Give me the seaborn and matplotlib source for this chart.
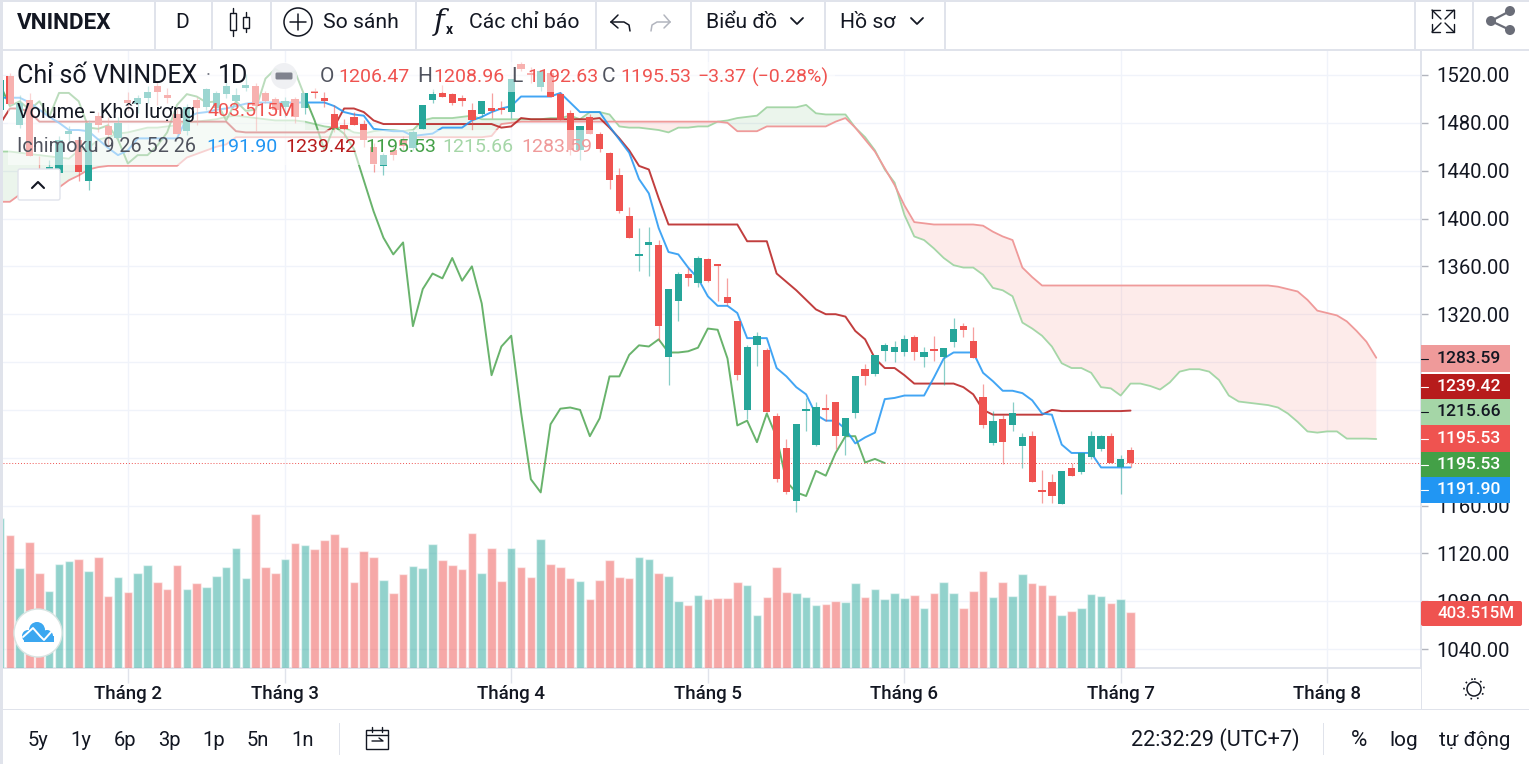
#!/usr/bin/env python3
"""VNINDEX daily candles with volume and Ichimoku, redrawn from a broker chart screenshot."""

import matplotlib
import matplotlib.pyplot as plt
import numpy as np
import pandas as pd
import seaborn as sns
from matplotlib.patches import Circle, FancyBboxPatch, Rectangle

matplotlib.use("Agg")

# ─── Data ───────────────────────────────────────────────────────────────────
OPENS = [
    1491, 1519, 1478, 1499, 1440, 1439, 1438, 1471, 1466, 1431,
    1486, 1477, 1467, 1499, 1496, 1501, 1511, 1503, 1487, 1473,
    1499, 1493, 1492, 1504, 1498, 1509, 1511, 1505, 1500, 1493,
    1500, 1492, 1506, 1501, 1487, 1478, 1485, 1479, 1460, 1444,
    1457, 1466, 1459, 1475, 1499, 1505, 1504, 1501, 1491, 1487,
    1492, 1492, 1489, 1529, 1522, 1510, 1522, 1504, 1488, 1457,
    1485, 1471, 1455, 1436, 1402, 1369, 1378, 1378, 1284, 1331,
    1354, 1346, 1366, 1362, 1334, 1314, 1240, 1294, 1290, 1235,
    1208, 1164, 1239, 1211, 1241, 1247, 1218, 1237, 1274, 1270,
    1289, 1288, 1288, 1301, 1284, 1290, 1284, 1297, 1310, 1298,
    1251, 1212, 1232, 1227, 1210, 1218, 1173, 1180, 1161, 1191,
    1188, 1201, 1207, 1218, 1192, 1206.47,
]
HIGHS = [
    1518, 1522, 1503, 1505, 1452, 1449, 1469, 1477, 1469, 1482,
    1489, 1485, 1485, 1506, 1503, 1511, 1514, 1509, 1492, 1496,
    1502, 1509, 1507, 1516, 1509, 1521, 1513, 1507, 1502, 1502,
    1502, 1505, 1509, 1506, 1495, 1483, 1489, 1482, 1463, 1455,
    1460, 1469, 1474, 1495, 1508, 1512, 1505, 1503, 1497, 1498,
    1505, 1498, 1517, 1531, 1527, 1523, 1522, 1506, 1491, 1477,
    1487, 1472, 1456, 1442, 1410, 1392, 1393, 1382, 1341, 1355,
    1359, 1369, 1367, 1362, 1350, 1314, 1294, 1305, 1292, 1237,
    1216, 1228, 1250, 1247, 1253, 1247, 1233, 1268, 1278, 1286,
    1296, 1298, 1303, 1303, 1293, 1302, 1292, 1317, 1313, 1309,
    1262, 1239, 1236, 1247, 1221, 1222, 1190, 1186, 1189, 1196,
    1204, 1222, 1219, 1221, 1202, 1208.96,
]
LOWS = [
    1488, 1495, 1476, 1452, 1424, 1434, 1436, 1463, 1431, 1424,
    1472, 1461, 1466, 1491, 1488, 1497, 1495, 1497, 1471, 1470,
    1478, 1491, 1489, 1501, 1493, 1507, 1473, 1497, 1487, 1485,
    1480, 1487, 1501, 1493, 1472, 1468, 1478, 1460, 1439, 1436,
    1449, 1457, 1457, 1475, 1497, 1502, 1495, 1494, 1474, 1485,
    1484, 1487, 1484, 1523, 1513, 1507, 1502, 1482, 1453, 1449,
    1471, 1456, 1425, 1405, 1384, 1356, 1352, 1298, 1261, 1314,
    1344, 1343, 1347, 1331, 1328, 1265, 1232, 1277, 1238, 1180,
    1170, 1155, 1222, 1210, 1231, 1207, 1202, 1233, 1261, 1268,
    1281, 1280, 1285, 1282, 1276, 1281, 1261, 1293, 1301, 1283,
    1225, 1211, 1195, 1222, 1191, 1180, 1162, 1162, 1161, 1185,
    1186, 1199, 1206, 1196, 1170, 1192.63,
]
CLOSES = [
    1516, 1496, 1497, 1452, 1438, 1443, 1466, 1473, 1439, 1480,
    1478, 1470, 1480, 1497, 1501, 1506, 1506, 1501, 1471, 1493,
    1492, 1508, 1505, 1511, 1503, 1512, 1494, 1498, 1491, 1498,
    1485, 1505, 1505, 1498, 1476, 1475, 1478, 1466, 1446, 1453,
    1453, 1461, 1472, 1495, 1504, 1502, 1497, 1498, 1482, 1498,
    1490, 1491, 1517, 1525, 1520, 1523, 1502, 1482, 1457, 1477,
    1471, 1458, 1432, 1406, 1384, 1370, 1380, 1310, 1341, 1354,
    1350, 1367, 1348, 1360, 1329, 1269, 1293, 1302, 1238, 1182,
    1171, 1228, 1241, 1242, 1240, 1218, 1233, 1268, 1268, 1286,
    1294, 1293, 1299, 1288, 1288, 1289, 1292, 1308, 1307, 1283,
    1227, 1231, 1213, 1237, 1217, 1180, 1171, 1168, 1189, 1185,
    1204, 1218, 1218, 1196, 1199, 1195.53,
]
VOLUMES = [
    1080, 958, 720, 907, 684, 554, 749, 770, 785, 698,
    799, 518, 655, 547, 684, 742, 619, 569, 742, 569,
    612, 583, 662, 727, 864, 648, 1109, 727, 684, 785,
    900, 886, 857, 922, 965, 871, 619, 842, 799, 634,
    540, 677, 734, 720, 893, 778, 742, 713, 972, 684,
    864, 626, 864, 727, 655, 929, 749, 727, 648, 626,
    497, 634, 778, 655, 648, 799, 785, 684, 662, 482,
    454, 526, 497, 504, 504, 619, 598, 382, 511, 727,
    547, 540, 511, 454, 461, 482, 475, 612, 511, 569,
    497, 540, 504, 526, 432, 540, 619, 540, 432, 554,
    698, 511, 619, 518, 677, 612, 598, 526, 382, 410,
    432, 533, 518, 468, 497, 403.515,
]
TENKAN = [
    1501, 1501, 1501, 1497, 1491, 1485, 1480, 1474, 1474, 1473,
    1466, 1459, 1453, 1457, 1467, 1467, 1467, 1467, 1467, 1484,
    1488, 1489, 1491, 1492, 1494, 1496, 1497, 1497, 1497, 1497,
    1497, 1497, 1497, 1497, 1494, 1489, 1487, 1486, 1475, 1474,
    1473, 1473, 1469, 1470, 1471, 1476, 1476, 1476, 1482, 1485,
    1489, 1492, 1494, 1502, 1502, 1502, 1502, 1505, 1497, 1489,
    1489, 1489, 1477, 1466, 1455, 1433, 1421, 1392, 1372, 1370,
    1359, 1350, 1335, 1327, 1327, 1321, 1300, 1300, 1300, 1275,
    1268, 1259, 1253, 1236, 1231, 1231, 1224, 1212, 1217, 1221,
    1249, 1250, 1252, 1252, 1252, 1267, 1283, 1288, 1288, 1288,
    1271, 1264, 1256, 1256, 1254, 1248, 1237, 1236, 1211, 1204,
    1204, 1204, 1191.9, 1191.9, 1191.9, 1191.9,
]
KIJUN = [
    1479, 1492, 1492, 1489, 1481, 1481, 1481, 1481, 1481, 1481,
    1481, 1481, 1481, 1481, 1481, 1481, 1481, 1481, 1481, 1481,
    1481, 1481, 1481, 1481, 1473, 1472, 1472, 1472, 1472, 1472,
    1472, 1472, 1472, 1472, 1477, 1492, 1492, 1489, 1482, 1479,
    1479, 1479, 1479, 1479, 1479, 1479, 1479, 1479, 1479, 1479,
    1479, 1476, 1477, 1484, 1483, 1483, 1483, 1483, 1483, 1483,
    1483, 1484, 1476, 1467, 1457, 1444, 1441, 1417, 1395, 1395,
    1395, 1395, 1395, 1395, 1395, 1395, 1381, 1381, 1381, 1354,
    1347, 1340, 1332, 1324, 1320, 1320, 1318, 1306, 1299, 1283,
    1275, 1275, 1269, 1262, 1262, 1262, 1262, 1262, 1259, 1253,
    1240, 1236, 1236, 1236, 1236, 1236, 1236, 1240, 1239, 1239,
    1239, 1239, 1239, 1239, 1239, 1239.42,
]
CHIKOU = [
    1512, 1494, 1498, 1491, 1498, 1485, 1505, 1505, 1498, 1476,
    1475, 1478, 1466, 1446, 1453, 1453, 1461, 1472, 1495, 1504,
    1502, 1497, 1498, 1482, 1498, 1490, 1491, 1517, 1525, 1520,
    1523, 1502, 1482, 1457, 1477, 1471, 1458, 1432, 1406, 1384,
    1370, 1380, 1310, 1341, 1354, 1350, 1367, 1348, 1360, 1329,
    1269, 1293, 1302, 1238, 1182, 1171, 1228, 1241, 1242, 1240,
    1218, 1233, 1268, 1268, 1286, 1294, 1293, 1299, 1288, 1288,
    1289, 1292, 1308, 1307, 1283, 1227, 1231, 1213, 1237, 1217,
    1180, 1171, 1168, 1189, 1185, 1204, 1218, 1218, 1196, 1199,
    1195.53,
]
SENKOU_A = [
    1456, 1456, 1455, 1454, 1453, 1452, 1451, 1450, 1457, 1459,
    1466, 1468, 1471, 1472, 1474, 1476, 1476, 1477, 1478, 1481,
    1481, 1482, 1483, 1485, 1486, 1485, 1484, 1483, 1482, 1482,
    1482, 1481, 1479, 1477, 1476, 1476, 1472, 1471, 1473, 1474,
    1474, 1473, 1474, 1482, 1484, 1484, 1484, 1485, 1486, 1483,
    1483, 1483, 1483, 1483, 1483, 1483, 1484, 1484, 1486, 1483,
    1489, 1489, 1487, 1477, 1476, 1476, 1475, 1474, 1472, 1476,
    1476, 1477, 1477, 1481, 1482, 1484, 1485, 1486, 1493, 1493,
    1493, 1493, 1495, 1488, 1487, 1487, 1487, 1476, 1468, 1457,
    1441, 1430, 1403, 1385, 1382, 1375, 1367, 1361, 1359, 1359,
    1353, 1342, 1340, 1335, 1313, 1308, 1302, 1293, 1279, 1275,
    1275, 1271, 1259, 1258, 1252, 1262, 1262, 1260, 1257, 1263,
    1272, 1274, 1274, 1272, 1265, 1252, 1247, 1246, 1245, 1244,
    1242, 1237, 1230, 1222, 1221, 1222, 1222, 1216, 1216, 1216,
    1215.66,
]
SENKOU_B = [
    1414, 1414, 1420, 1422, 1424, 1426, 1426, 1432, 1436, 1441,
    1443, 1444, 1444, 1444, 1444, 1444, 1444, 1444, 1444, 1451,
    1454, 1457, 1460, 1462, 1468, 1468, 1468, 1468, 1468, 1468,
    1468, 1468, 1468, 1468, 1468, 1468, 1468, 1468, 1468, 1468,
    1468, 1468, 1468, 1468, 1468, 1468, 1468, 1468, 1468, 1468,
    1469, 1479, 1480, 1481, 1481, 1481, 1481, 1481, 1481, 1481,
    1481, 1481, 1481, 1481, 1481, 1481, 1481, 1481, 1481, 1481,
    1481, 1481, 1481, 1481, 1480, 1473, 1473, 1473, 1477, 1477,
    1477, 1477, 1477, 1477, 1477, 1481, 1484, 1476, 1466, 1456,
    1442, 1428, 1411, 1397, 1396, 1395, 1395, 1395, 1395, 1395,
    1394, 1389, 1385, 1382, 1359, 1351, 1344, 1344, 1344, 1344,
    1344, 1344, 1344, 1344, 1344, 1344, 1344, 1344, 1344, 1344,
    1344, 1344, 1344, 1344, 1344, 1344, 1344, 1344, 1344, 1344,
    1343, 1341, 1339, 1332, 1323, 1321, 1319, 1314, 1306, 1297,
    1283.59,
]
PRICE_TICKS = [1040, 1080, 1120, 1160, 1200, 1240, 1280, 1320, 1360, 1400, 1440, 1480, 1520]
HIDDEN_TICKS = [1200, 1240, 1280]  # covered by the last value tags
MONTH_BARS = [13, 29, 52, 72, 92, 114, 135]
MONTH_LABELS = ["Tháng 2", "Tháng 3", "Tháng 4", "Tháng 5", "Tháng 6", "Tháng 7", "Tháng 8"]
RANGES = ["5y", "1y", "6p", "3p", "1p", "5n", "1n"]

# ─── Styles ─────────────────────────────────────────────────────────────────
UP = "#26A69A"
DOWN = "#EF5350"
C_TENKAN = "#2196F3"
C_KIJUN = "#B71C1C"
C_CHIKOU = "#43A047"
C_SPAN_A = "#A5D6A7"
C_SPAN_B = "#EF9A9A"
GRID = "#F0F3FA"
BORDER = "#E0E3EB"
INK = "#131722"
GREY = "#50535E"
W, H = 1529, 764

sns.set_style("white")
plt.rcParams["font.family"] = ["Roboto", "DejaVu Sans"]


def main():
    n_bars = len(CLOSES)
    bars = pd.DataFrame({"bar": np.arange(n_bars), "open": OPENS, "high": HIGHS,
                         "low": LOWS, "close": CLOSES, "volume": VOLUMES})
    bars["dir"] = np.where(bars["close"] >= bars["open"], "up", "down")
    cloud = pd.DataFrame({"bar": np.arange(len(SENKOU_A)), "a": SENKOU_A, "b": SENKOU_B})

    fig = plt.figure(figsize=(W / 100, H / 100), dpi=100, facecolor="white")
    rect = [3 / W, 1 - 668 / H, 1418 / W, 618 / H]
    ax = fig.add_axes(rect, zorder=1)
    ax_vol = fig.add_axes(rect, zorder=2)
    ax_vol.patch.set_alpha(0)

    # price pane
    ax.fill_between(cloud["bar"], cloud["a"], cloud["b"], where=cloud["a"] >= cloud["b"],
                    interpolate=True, color=C_CHIKOU, alpha=0.1, lw=0, zorder=1)
    ax.fill_between(cloud["bar"], cloud["a"], cloud["b"], where=cloud["a"] < cloud["b"],
                    interpolate=True, color="#F44336", alpha=0.1, lw=0, zorder=1)
    sns.lineplot(data=cloud, x="bar", y="a", ax=ax, color=C_SPAN_A, lw=1.3, estimator=None, zorder=2)
    sns.lineplot(data=cloud, x="bar", y="b", ax=ax, color=C_SPAN_B, lw=1.3, estimator=None, zorder=2)
    sns.lineplot(x=np.arange(len(CHIKOU)), y=CHIKOU, ax=ax, color=C_CHIKOU, lw=1.4, alpha=0.8,
                 estimator=None, zorder=3)
    sns.lineplot(x=bars["bar"], y=KIJUN, ax=ax, color=C_KIJUN, lw=1.4, alpha=0.85, estimator=None, zorder=3)
    sns.lineplot(x=bars["bar"], y=TENKAN, ax=ax, color=C_TENKAN, lw=1.4, alpha=0.85, estimator=None, zorder=3)

    colors = bars["dir"].map({"up": UP, "down": DOWN})
    ax.vlines(bars["bar"], bars["low"], bars["high"], colors=colors, lw=0.9, alpha=0.55, zorder=4)
    bottoms = bars[["open", "close"]].min(axis=1)
    heights = (bars["close"] - bars["open"]).abs().clip(lower=1.6)
    ax.bar(bars["bar"], heights, bottom=bottoms, width=0.74, color=colors, lw=0, zorder=5)
    ax.axhline(CLOSES[-1], color=DOWN, lw=0.7, ls=(0, (1, 2)), zorder=4)

    ax.set_xlim(0.3, 144.55)
    ax.set_ylim(1024.2, 1540.9)
    ax.set_xlabel("")
    ax.set_ylabel("")
    ax.set_xticks(MONTH_BARS)
    ax.set_xticklabels(MONTH_LABELS, fontsize=13.4, color=INK, fontweight="medium")
    ax.set_yticks(PRICE_TICKS)
    ax.set_yticklabels(["" if p in HIDDEN_TICKS else f"{p:.2f}" for p in PRICE_TICKS],
                       fontsize=14.6, color=INK)
    ax.yaxis.tick_right()
    ax.tick_params(axis="y", length=5, width=1, color="#B2B5BE", pad=6, right=True)
    ax.tick_params(axis="x", length=11, width=1, color=BORDER, pad=1, bottom=True)
    ax.grid(True, color=GRID, lw=1)
    ax.set_axisbelow(True)
    for name, spine in ax.spines.items():
        spine.set_visible(name in ("bottom", "right"))
        spine.set_color(BORDER)
        spine.set_linewidth(1.4)

    # volume pane, same x scale
    sns.barplot(data=bars, x="bar", y="volume", hue="dir", native_scale=True, dodge=False,
                width=0.87, palette={"up": UP, "down": DOWN}, saturation=1, alpha=0.5,
                errorbar=None, legend=False, ax=ax_vol)
    ax_vol.set_xlim(0.3, 144.55)
    ax_vol.set_ylim(0, 618 * 403.515 / 56)
    ax_vol.axis("off")

    draw_ui(fig)
    fig.savefig("out.png", dpi=100)
    plt.close(fig)


def draw_ui(fig):
    ui = fig.add_axes([0, 0, 1, 1], zorder=10)
    ui.set_xlim(0, W)
    ui.set_ylim(H, 0)
    ui.axis("off")
    ui.patch.set_alpha(0)

    def txt(x, y, s, color=INK, size=14, ha="left", **kw):
        ui.text(x, y, s, color=color, fontsize=size, ha=ha, va="center", **kw)

    def box(x, y, w, h, fc, **kw):
        ui.add_patch(Rectangle((x, y), w, h, fc=fc, lw=0, **kw))

    def line(xs, ys, color=INK, lw=1.1, **kw):
        ui.plot(xs, ys, color=color, lw=lw, solid_capstyle="round", **kw)

    # faded strip behind the legend rows
    box(8, 62, 827, 30, "white", alpha=0.55)
    box(8, 92, 297, 38, "white", alpha=0.55)
    box(8, 130, 587, 35, "white", alpha=0.55)

    # toolbar
    box(0, 0, W, 2, BORDER)
    box(0, 49, W, 2.4, BORDER)
    box(0, 0, 3, H, BORDER)
    for x in [154, 211, 270, 415, 595, 690, 824, 944, 1414, 1472]:
        box(x, 0, 1.5, 50, BORDER)
    txt(17, 23, "VNINDEX", size=16.2, fontweight="bold")
    txt(182, 23, "D", size=15, ha="center")
    for x, top, bot, t, b in [(233, 13, 30, 8, 36), (246, 17, 28, 12, 32)]:
        ui.add_patch(Rectangle((x - 3, top), 6, bot - top, fc="white", ec=INK, lw=1))
        line([x, x], [t, top], lw=1)
        line([x, x], [bot, b], lw=1)
    ui.add_patch(Circle((298, 22), 14, fc="white", ec=INK, lw=1.1))
    line([298, 298], [14, 30])
    line([290, 306], [22, 22])
    txt(323, 23, "So sánh", size=15.2)
    txt(434, 22, "f", size=21, family="DejaVu Serif", style="italic")
    txt(446, 30, "x", size=10, fontweight="bold")
    txt(469, 23, "Các chỉ báo", size=15.2)
    line([611, 618], [22, 15])
    line([611, 618], [22, 28])
    line([611, 624, 629, 630], [22, 22, 25, 31])
    line([670, 664], [22, 15], color="#B2B5BE")
    line([670, 664], [22, 28], color="#B2B5BE")
    line([670, 657, 652, 651], [22, 22, 25, 31], color="#B2B5BE")
    txt(706, 23, "Biểu đồ", size=15.2)
    line([791, 797, 803], [18, 24, 18], lw=1.3)
    txt(840, 23, "Hồ sơ", size=15.2)
    line([911, 917, 923], [18, 24, 18], lw=1.3)
    for sx, sy in [(1, 1), (-1, 1), (1, -1), (-1, -1)]:
        cx, cy = 1443 + sx * 11, 21 + sy * 11
        line([cx - sx * 8, cx], [cy, cy], lw=1)
        line([cx, cx], [cy - sy * 8, cy], lw=1)
        line([cx, cx - sx * 9], [cy, cy - sy * 9], lw=1)
    share = [(1510, 11), (1491, 21), (1510, 30)]
    line([p[0] for p in share], [p[1] for p in share], color="#6A6D78", lw=1.6)
    for p in share:
        ui.add_patch(Circle(p, 5, fc="#6A6D78", lw=0))

    # legend rows
    txt(17, 76, "Chỉ số VNINDEX", size=18)
    txt(206, 76, "·", color="#787B86", size=14)
    txt(218, 76, "1D", size=18)
    ui.add_patch(Circle((284, 76), 13, fc="#EEEFF2", lw=0, alpha=0.9))
    ui.add_patch(FancyBboxPatch((277, 74), 14, 4, boxstyle="round,pad=1.5", fc="#80838E", lw=0))
    for x, s in [(320, "O"), (417, "H"), (511, "L"), (602, "C")]:
        txt(x, 77, s, color=GREY, size=15)
    for x, s in [(338, "1206.47"), (433, "1208.96"), (527, "1192.63"), (620, "1195.53"),
                 (697, "−3.37"), (752, "(−0.28%)")]:
        txt(x, 77, s, color=DOWN)
    txt(17, 111, "Volume - Khối lượng", size=14.3)
    txt(207, 111, "403.515M", color=DOWN)
    txt(17, 147, "Ichimoku 9 26 52 26", color=GREY, size=14.3)
    for x, s, c in [(206, "1191.90", C_TENKAN), (285, "1239.42", C_KIJUN), (365, "1195.53", C_CHIKOU),
                    (442, "1215.66", C_SPAN_A), (521, "1283.59", C_SPAN_B)]:
        txt(x, 147, s, color=c)
    ui.add_patch(FancyBboxPatch((20, 171), 38, 27, boxstyle="round,pad=2", fc="white", ec=BORDER, lw=1))
    line([32, 38, 44], [188, 182, 188], lw=1.5)

    # last value tags on the price scale
    tags = [(345, 27, "1283.59", C_SPAN_B, INK), (374, 25, "1239.42", C_KIJUN, "white"),
            (399, 26, "1215.66", C_SPAN_A, INK), (425, 27, "1195.53", DOWN, "white"),
            (452, 25, "1195.53", C_CHIKOU, "white"), (477, 26, "1191.90", C_TENKAN, "white")]
    for y, h, s, fc, tc in tags:
        box(1421, y, 89, h, fc)
        line([1421, 1428], [y + h / 2, y + h / 2], color=tc, lw=0.8)
        txt(1437, y + h / 2, s, color=tc, size=12.6, fontweight="medium")
    ui.add_patch(FancyBboxPatch((1423, 603), 97, 21, boxstyle="round,pad=2", fc=DOWN, lw=0))
    txt(1437, 614, "403.515M", color="white", size=12.2, fontweight="medium")

    # logo bubble
    ui.add_patch(Circle((38, 633), 24, fc="white", ec="#D8E4E2", lw=1))
    for x, y, r in [(28, 636, 6), (37, 630, 8), (47, 636, 6)]:
        ui.add_patch(Circle((x, y), r, fc="#3BA7F0", lw=0))
    box(24, 636, 30, 6, "#3BA7F0")
    line([23, 33, 40, 44, 52], [637, 628, 636, 640, 631], color="white", lw=1.4)

    # footer
    box(0, 709, W, 1.4, BORDER)
    box(1421, 668, 1.4, 42, BORDER)
    for x, s in zip([38, 81, 125, 169, 214, 258, 303], RANGES):
        txt(x, 740, s, size=14.5, ha="center")
    box(339, 723, 1.4, 32, BORDER)
    ui.add_patch(Rectangle((366, 730), 22, 19, fc="white", ec=INK, lw=1))
    line([366, 388], [735, 735], lw=1)
    line([372, 372], [727, 732], lw=1)
    line([382, 382], [727, 732], lw=1)
    line([372, 383, 379], [741, 741, 738], lw=1)
    txt(1131, 740, "22:32:29 (UTC+7)", size=15.6)
    box(1323, 723, 1.4, 32, BORDER)
    txt(1359, 740, "%", size=16, ha="center")
    txt(1404, 740, "log", size=15, ha="center")
    txt(1475, 740, "tự động", size=14.8, ha="center")
    ui.add_patch(Circle((1474, 689), 7, fc="white", ec=INK, lw=1.1))
    ui.add_patch(Circle((1474, 689), 10, fc="none", ec=INK, lw=1.2, ls=(0, (1, 3))))


if __name__ == "__main__":
    main()
